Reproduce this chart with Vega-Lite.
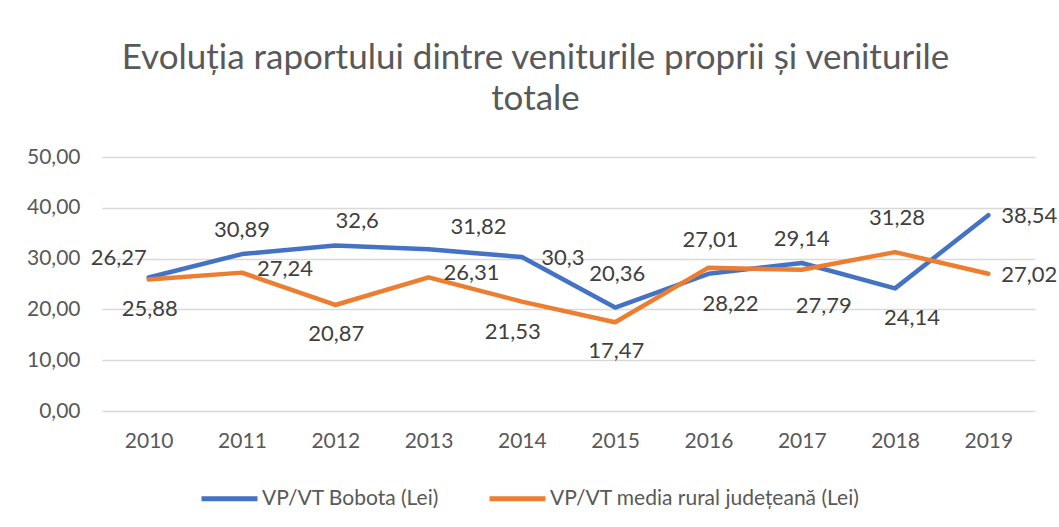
{
  "$schema": "https://vega.github.io/schema/vega-lite/v6.json",
  "autosize": "none",
  "width": 933,
  "height": 254,
  "padding": {"left": 102, "top": 157, "right": 24, "bottom": 116},
  "background": "white",
  "config": {
    "locale": {"number": {"decimal": ",", "thousands": ".", "grouping": [3], "currency": ["", " lei"]}},
    "view": {"stroke": null},
    "font": "Lato",
    "text": {"font": "Lato"}
  },
  "title": {
    "text": ["Evoluția raportului dintre veniturile proprii și veniturile", "totale"],
    "fontSize": 35,
    "lineHeight": 41,
    "font": "Lato",
    "fontWeight": "normal",
    "color": "#595959",
    "anchor": "middle",
    "dx": -33,
    "offset": 29
  },
  "data": {
    "values": [
      {"year": "2010", "series": "VP/VT Bobota (Lei)", "value": 26.27},
      {"year": "2011", "series": "VP/VT Bobota (Lei)", "value": 30.89},
      {"year": "2012", "series": "VP/VT Bobota (Lei)", "value": 32.6},
      {"year": "2013", "series": "VP/VT Bobota (Lei)", "value": 31.82},
      {"year": "2014", "series": "VP/VT Bobota (Lei)", "value": 30.3},
      {"year": "2015", "series": "VP/VT Bobota (Lei)", "value": 20.36},
      {"year": "2016", "series": "VP/VT Bobota (Lei)", "value": 27.01},
      {"year": "2017", "series": "VP/VT Bobota (Lei)", "value": 29.14},
      {"year": "2018", "series": "VP/VT Bobota (Lei)", "value": 24.14},
      {"year": "2019", "series": "VP/VT Bobota (Lei)", "value": 38.54},
      {"year": "2010", "series": "VP/VT media rural județeană (Lei)", "value": 25.88},
      {"year": "2011", "series": "VP/VT media rural județeană (Lei)", "value": 27.24},
      {"year": "2012", "series": "VP/VT media rural județeană (Lei)", "value": 20.87},
      {"year": "2013", "series": "VP/VT media rural județeană (Lei)", "value": 26.31},
      {"year": "2014", "series": "VP/VT media rural județeană (Lei)", "value": 21.53},
      {"year": "2015", "series": "VP/VT media rural județeană (Lei)", "value": 17.47},
      {"year": "2016", "series": "VP/VT media rural județeană (Lei)", "value": 28.22},
      {"year": "2017", "series": "VP/VT media rural județeană (Lei)", "value": 27.79},
      {"year": "2018", "series": "VP/VT media rural județeană (Lei)", "value": 31.28},
      {"year": "2019", "series": "VP/VT media rural județeană (Lei)", "value": 27.02}
    ]
  },
  "encoding": {
    "x": {
      "field": "year", "type": "nominal",
      "scale": {"type": "point", "padding": 0.5},
      "axis": {"title": null, "labelAngle": 0, "domain": false, "ticks": false, "grid": false, "labelFontSize": 21, "labelColor": "#595959", "labelFont": "Lato", "labelPadding": 19}
    },
    "y": {
      "field": "value", "type": "quantitative",
      "scale": {"domain": [0, 50], "nice": false, "zero": true},
      "axis": {"title": null, "values": [0, 10, 20, 30, 40, 50], "format": ".2f", "domain": false, "ticks": false, "gridColor": "#d9d9d9", "gridWidth": 1.3, "labelFontSize": 21, "labelColor": "#595959", "labelFont": "Lato", "labelPadding": 22}
    }
  },
  "layer": [
    {
      "mark": {"type": "line", "strokeWidth": 4.5, "strokeCap": "round", "strokeJoin": "round"},
      "encoding": {
        "color": {
          "field": "series", "type": "nominal",
          "scale": {"domain": ["VP/VT Bobota (Lei)", "VP/VT media rural județeană (Lei)"], "range": ["#4472C4", "#ED7D31"]},
          "legend": {
            "title": null, "orient": "none", "direction": "horizontal",
            "legendX": 97, "legendY": 311, "padding": 0,
            "symbolType": "stroke", "symbolSize": 3136, "symbolStrokeWidth": 5,
            "labelFontSize": 21, "labelColor": "#595959", "labelFont": "Lato", "labelOffset": 2, "labelLimit": 0,
            "columnPadding": 40
          }
        }
      }
    },
    {
      "transform": [{"filter": {"and": [{"field": "series", "equal": "VP/VT Bobota (Lei)"}, {"field": "year", "oneOf": ["2011", "2017"]}]}}],
      "mark": {"type": "text", "fontSize": 22, "color": "#404040", "dx": 0, "dy": -24},
      "encoding": {"text": {"field": "value", "type": "quantitative", "format": ".2~f"}}
    },
    {
      "transform": [{"filter": {"or": [{"and": [{"field": "series", "equal": "VP/VT Bobota (Lei)"}, {"field": "year", "oneOf": ["2015", "2016"]}]}, {"and": [{"field": "series", "equal": "VP/VT media rural județeană (Lei)"}, {"field": "year", "oneOf": ["2018"]}]}]}}],
      "mark": {"type": "text", "fontSize": 22, "color": "#404040", "dx": 2, "dy": -34},
      "encoding": {"text": {"field": "value", "type": "quantitative", "format": ".2~f"}}
    },
    {
      "transform": [{"filter": {"and": [{"field": "series", "equal": "VP/VT Bobota (Lei)"}, {"field": "year", "oneOf": ["2012"]}]}}],
      "mark": {"type": "text", "fontSize": 22, "color": "#404040", "dx": 22, "dy": -24},
      "encoding": {"text": {"field": "value", "type": "quantitative", "format": ".2~f"}}
    },
    {
      "transform": [{"filter": {"and": [{"field": "series", "equal": "VP/VT Bobota (Lei)"}, {"field": "year", "oneOf": ["2013"]}]}}],
      "mark": {"type": "text", "fontSize": 22, "color": "#404040", "dx": 50, "dy": -22},
      "encoding": {"text": {"field": "value", "type": "quantitative", "format": ".2~f"}}
    },
    {
      "transform": [{"filter": {"or": [{"and": [{"field": "series", "equal": "VP/VT Bobota (Lei)"}, {"field": "year", "oneOf": ["2014", "2019"]}]}, {"and": [{"field": "series", "equal": "VP/VT media rural județeană (Lei)"}, {"field": "year", "oneOf": ["2019"]}]}]}}],
      "mark": {"type": "text", "fontSize": 22, "color": "#404040", "dx": 41, "dy": 1},
      "encoding": {"text": {"field": "value", "type": "quantitative", "format": ".2~f"}}
    },
    {
      "transform": [{"filter": {"and": [{"field": "series", "equal": "VP/VT media rural județeană (Lei)"}, {"field": "year", "oneOf": ["2011", "2013"]}]}}],
      "mark": {"type": "text", "fontSize": 22, "color": "#404040", "dx": 43, "dy": -4},
      "encoding": {"text": {"field": "value", "type": "quantitative", "format": ".2~f"}}
    },
    {
      "transform": [{"filter": {"and": [{"field": "series", "equal": "VP/VT Bobota (Lei)"}, {"field": "year", "oneOf": ["2010"]}]}}],
      "mark": {"type": "text", "fontSize": 22, "color": "#404040", "dx": -30, "dy": -20},
      "encoding": {"text": {"field": "value", "type": "quantitative", "format": ".2~f"}}
    },
    {
      "transform": [{"filter": {"and": [{"field": "series", "equal": "VP/VT media rural județeană (Lei)"}, {"field": "year", "oneOf": ["2010", "2012", "2015"]}]}}],
      "mark": {"type": "text", "fontSize": 22, "color": "#404040", "dx": 1, "dy": 29},
      "encoding": {"text": {"field": "value", "type": "quantitative", "format": ".2~f"}}
    },
    {
      "transform": [{"filter": {"and": [{"field": "series", "equal": "VP/VT media rural județeană (Lei)"}, {"field": "year", "oneOf": ["2014"]}]}}],
      "mark": {"type": "text", "fontSize": 22, "color": "#404040", "dx": -9, "dy": 30},
      "encoding": {"text": {"field": "value", "type": "quantitative", "format": ".2~f"}}
    },
    {
      "transform": [{"filter": {"and": [{"field": "series", "equal": "VP/VT Bobota (Lei)"}, {"field": "year", "oneOf": ["2018"]}]}}],
      "mark": {"type": "text", "fontSize": 22, "color": "#404040", "dx": 17, "dy": 30},
      "encoding": {"text": {"field": "value", "type": "quantitative", "format": ".2~f"}}
    },
    {
      "transform": [{"filter": {"and": [{"field": "series", "equal": "VP/VT media rural județeană (Lei)"}, {"field": "year", "oneOf": ["2016", "2017"]}]}}],
      "mark": {"type": "text", "fontSize": 22, "color": "#404040", "dx": 22, "dy": 36},
      "encoding": {"text": {"field": "value", "type": "quantitative", "format": ".2~f"}}
    }
  ]
}
